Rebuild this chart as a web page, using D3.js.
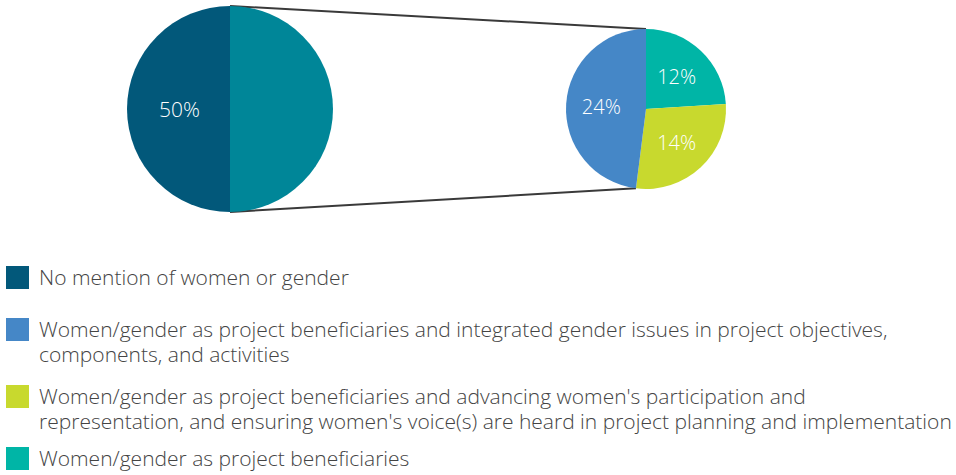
<!DOCTYPE html>
<html><head><meta charset="utf-8">
<script src="https://cdn.jsdelivr.net/npm/d3@7"></script>
<style>
html,body{margin:0;padding:0;background:#fff;}
svg{display:block;}
text{font-family:"Open Sans",sans-serif;font-weight:300;}
</style></head>
<body>
<script>
// Main pie: share of projects
const mainCategories = ["Mentions women or gender", "No mention of women or gender"];
const mainValues = [50, 50];
const mainColors = ["#008698", "#02587a"];
const mainLabels = ["", "50%"];

// Breakdown pie of "mentions women or gender"
const subCategories = [
  "Women/gender as project beneficiaries",
  "Women/gender as project beneficiaries and advancing women's participation and representation, and ensuring women's voice(s) are heard in project planning and implementation",
  "Women/gender as project beneficiaries and integrated gender issues in project objectives, components, and activities"
];
const subValues = [12, 14, 24];
const subColors = ["#00b5a6", "#c8d92e", "#4587c7"];
const subLabels = ["12%", "14%", "24%"];

// Legend
const legendColors = ["#02587a", "#4587c7", "#c8d92e", "#00b5a6"];
const legendLines = [
  ["No mention of women or gender"],
  ["Women/gender as project beneficiaries and integrated gender issues in project objectives,", "components, and activities"],
  ["Women/gender as project beneficiaries and advancing women's participation and", "representation, and ensuring women's voice(s) are heard in project planning and implementation"],
  ["Women/gender as project beneficiaries"]
];

const W = 956, H = 475;
const svg = d3.select("body").append("svg").attr("width", W).attr("height", H);

const big = {cx: 230, cy: 109, r: 103};
const small = {cx: 646, cy: 109, r: 80};

const pie = d3.pie().sort(null).startAngle(0).endAngle(2 * Math.PI);
const mainArcs = pie(mainValues);
const subArcs = pie(subValues);

const pt = (c, a) => [c.cx + c.r * Math.sin(a), c.cy - c.r * Math.cos(a)];

// connector lines
const lines = [
  [pt(big, mainArcs[0].startAngle), pt(small, subArcs[0].startAngle)],
  [pt(big, mainArcs[0].endAngle), pt(small, subArcs[1].endAngle)]
];
svg.selectAll("line.conn").data(lines).join("line")
  .attr("class", "conn")
  .attr("x1", d => d[0][0]).attr("y1", d => d[0][1])
  .attr("x2", d => d[1][0]).attr("y2", d => d[1][1])
  .attr("stroke", "#3a3a3a").attr("stroke-width", 2);

const bigArc = d3.arc().innerRadius(0).outerRadius(big.r);
const gBig = svg.append("g").attr("transform", `translate(${big.cx},${big.cy})`);
gBig.selectAll("path").data(mainArcs).join("path")
  .attr("d", bigArc).attr("fill", (d, i) => mainColors[i]);
const bigLabelArc = d3.arc().innerRadius(big.r * 0.49).outerRadius(big.r * 0.49);
gBig.selectAll("text").data(mainArcs).join("text")
  .attr("transform", d => `translate(${bigLabelArc.centroid(d)})`)
  .attr("text-anchor", "middle").attr("dy", "0.38em")
  .attr("fill", "#fff").attr("font-size", 21)
  .text((d, i) => mainLabels[i]);

const smallArc = d3.arc().innerRadius(0).outerRadius(small.r);
const gSmall = svg.append("g").attr("transform", `translate(${small.cx},${small.cy})`);
gSmall.selectAll("path").data(subArcs).join("path")
  .attr("d", smallArc).attr("fill", (d, i) => subColors[i]);
const smallLabelArc = d3.arc().innerRadius(small.r * 0.56).outerRadius(small.r * 0.56);
gSmall.selectAll("text").data(subArcs).join("text")
  .attr("transform", d => `translate(${smallLabelArc.centroid(d)})`)
  .attr("text-anchor", "middle").attr("dy", "0.4em")
  .attr("fill", "#fff").attr("font-size", 20)
  .text((d, i) => subLabels[i]);

// legend
const legendY = [266, 318, 385, 447];
const lg = svg.append("g");
const items = lg.selectAll("g").data(legendLines).join("g")
  .attr("transform", (d, i) => `translate(6,${legendY[i]})`);
items.append("rect").attr("width", 23).attr("height", 23)
  .attr("fill", (d, i) => legendColors[i]);
items.each(function(lines) {
  const t = d3.select(this).append("text")
    .attr("x", 33).attr("y", 19).attr("font-size", 21).attr("fill", "#444");
  lines.forEach((l, j) => {
    t.append("tspan").attr("x", 33).attr("dy", j === 0 ? 0 : 25).text(l);
  });
});
</script>
</body></html>
